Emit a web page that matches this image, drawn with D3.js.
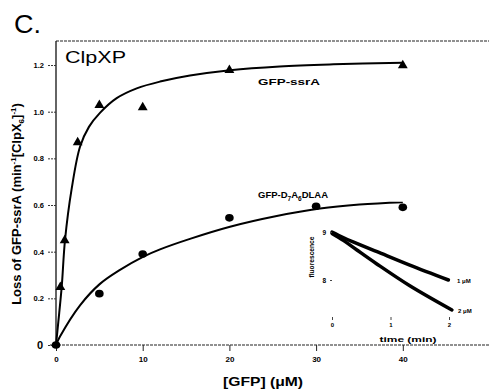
<!DOCTYPE html>
<html><head><meta charset="utf-8">
<script src="https://cdn.jsdelivr.net/npm/d3@7"></script>
<style>body{margin:0;background:#fff}svg{display:block}text{font-family:"Liberation Sans",Arial,sans-serif;fill:#000}</style>
</head><body><div id="c"></div>
<script>
// Main chart data
const ssrAConc = [0.5, 1, 2.5, 5, 10, 20, 40];
const ssrARate = [0.25, 0.45, 0.87, 1.03, 1.02, 1.18, 1.20];
const dlaaConc = [0, 5, 10, 20, 30, 40];
const dlaaRate = [0, 0.22, 0.39, 0.545, 0.595, 0.59];
// Fitted curves
const ssrAFitX = [0, 0.27, 0.66, 1.04, 1.81, 2.77, 3.8, 5.07, 7.0, 9.31, 12.0, 15.45, 20.07, 25.8, 32, 40];
const ssrAFitY = [0, 0.10, 0.25, 0.45, 0.67, 0.85, 0.935, 0.995, 1.058, 1.10, 1.129, 1.155, 1.178, 1.194, 1.203, 1.21];
const dlaaFitX = [0, 0.46, 2.77, 5.07, 7.38, 10.03, 12.0, 15.45, 20.07, 25.46, 30.45, 35, 40];
const dlaaFitY = [0, 0.036, 0.17, 0.262, 0.322, 0.378, 0.41, 0.455, 0.507, 0.553, 0.585, 0.602, 0.612];
const xTicks = [0, 10, 20, 30, 40];
const xTickLabels = ["0", "10", "20", "30", "40"];
const yTicks = [0, 0.2, 0.4, 0.6, 0.8, 1.0, 1.2];
const yTickLabels = ["0", "0.2", "0.4", "0.6", "0.8", "1.0", "1.2"];
// Inset data (time in min, fluorescence)
const insetTime1 = [0, 0.2, 0.37, 0.77, 1.33, 1.99];
const insetFluor1 = [9.0, 8.88, 8.79, 8.59, 8.31, 8.0];
const insetTime2 = [0, 0.2, 0.42, 0.76, 1.33, 2.05];
const insetFluor2 = [8.97, 8.82, 8.63, 8.34, 7.88, 7.375];
const insetXTicks = [0, 1, 2];
const insetYTicks = [8, 9];

const W = 489, H = 390;
const svg = d3.select("#c").append("svg").attr("width", W).attr("height", H);

const x = d3.scaleLinear().domain([0, 50]).range([56, 489.5]);
const y = d3.scaleLinear().domain([0, 1.3]).range([345, 41.7]);

// frame
svg.append("line").attr("x1", 56).attr("x2", W).attr("y1", 41).attr("y2", 41)
  .attr("stroke", "#222").attr("stroke-width", 1.2).attr("stroke-dasharray", "3,1");
svg.append("line").attr("x1", 56).attr("x2", 56).attr("y1", 41).attr("y2", 345)
  .attr("stroke", "#111").attr("stroke-width", 1.3);
svg.append("line").attr("x1", 50).attr("x2", W).attr("y1", 345).attr("y2", 345)
  .attr("stroke", "#222").attr("stroke-width", 1.2).attr("stroke-dasharray", "3,1");

// x axis ticks
const xa = svg.append("g").attr("transform", "translate(0,345)")
  .call(d3.axisBottom(x).tickValues(xTicks).tickSize(6).tickFormat((d, i) => xTickLabels[i]));
xa.select(".domain").remove();
xa.selectAll("line").attr("stroke", "#222").attr("stroke-width", 1);
xa.selectAll("text").attr("font-size", 8).attr("font-weight", "bold").attr("dy", 0).attr("y", 17);

// y axis ticks
const ya = svg.append("g").attr("transform", "translate(56,0)")
  .call(d3.axisLeft(y).tickValues(yTicks).tickSize(8).tickFormat((d, i) => yTickLabels[i]));
ya.select(".domain").remove();
ya.selectAll("line").attr("stroke", "#333").attr("stroke-width", 1).attr("stroke-dasharray", "2,1");
ya.selectAll("text").attr("font-size", 7.5).attr("font-weight", "bold").attr("x", -12);
ya.selectAll("text").filter(d => d === 0).attr("font-size", 11).attr("x", -13);

// curves
const line = d3.line().x(d => x(d[0])).y(d => y(d[1])).curve(d3.curveCatmullRom.alpha(0.5));
svg.append("path").datum(ssrAFitX.map((v, i) => [v, ssrAFitY[i]]))
  .attr("d", line).attr("fill", "none").attr("stroke", "#000").attr("stroke-width", 2);
svg.append("path").datum(dlaaFitX.map((v, i) => [v, dlaaFitY[i]]))
  .attr("d", line).attr("fill", "none").attr("stroke", "#000").attr("stroke-width", 2);

// markers
const tri = d3.symbol().type(d3.symbolTriangle).size(42);
svg.selectAll(".tri").data(ssrAConc.map((v, i) => [v, ssrARate[i]])).enter().append("path")
  .attr("d", tri).attr("transform", d => `translate(${x(d[0])},${y(d[1]) + 0.5})`).attr("fill", "#000");
svg.selectAll(".dot").data(dlaaConc.map((v, i) => [v, dlaaRate[i]])).enter().append("ellipse")
  .attr("cx", d => x(d[0])).attr("cy", d => y(d[1])).attr("rx", 4.3).attr("ry", 3.8).attr("fill", "#000");

// texts
svg.append("text").attr("x", 14).attr("y", 33).attr("font-size", 26)
  .attr("textLength", 27).attr("lengthAdjust", "spacingAndGlyphs").text("C.");
svg.append("text").attr("x", 65).attr("y", 63).attr("font-size", 16)
  .attr("textLength", 61).attr("lengthAdjust", "spacingAndGlyphs").text("ClpXP");
svg.append("text").attr("x", 258).attr("y", 85).attr("font-size", 9.5).attr("font-weight", "bold")
  .attr("textLength", 62).attr("lengthAdjust", "spacingAndGlyphs").text("GFP-ssrA");
const t2 = svg.append("text").attr("x", 258).attr("y", 198).attr("font-size", 9.5).attr("font-weight", "bold");
t2.append("tspan").text("GFP-D");
t2.append("tspan").attr("font-size", 6.5).attr("dy", 3).text("7");
t2.append("tspan").attr("dy", -3).text("A");
t2.append("tspan").attr("font-size", 6.5).attr("dy", 3).text("6");
t2.append("tspan").attr("dy", -3).text("DLAA");

svg.append("text").attr("x", 263).attr("y", 386).attr("text-anchor", "middle")
  .attr("font-size", 12).attr("font-weight", "bold")
  .attr("textLength", 80).attr("lengthAdjust", "spacingAndGlyphs").text("[GFP] (\u03bcM)");

const yt = svg.append("text").attr("transform", "translate(21,204) rotate(-90)")
  .attr("text-anchor", "middle").attr("font-size", 13).attr("font-weight", "bold");
yt.append("tspan").text("Loss of GFP-ssrA (min");
yt.append("tspan").attr("font-size", 8).attr("dy", -5).text("-1");
yt.append("tspan").attr("dy", 5).text("[ClpX");
yt.append("tspan").attr("font-size", 8).attr("dy", 3).text("6");
yt.append("tspan").attr("dy", -3).text("]");
yt.append("tspan").attr("font-size", 8).attr("dy", -5).text("-1");
yt.append("tspan").attr("dy", 5).text(")");

// inset
const ix = d3.scaleLinear().domain([0, 2]).range([332, 449]);
const iy = d3.scaleLinear().domain([8, 9]).range([280, 232]);
const il = d3.line().x(d => ix(d[0])).y(d => iy(d[1])).curve(d3.curveCatmullRom.alpha(0.5));
[[insetTime1, insetFluor1], [insetTime2, insetFluor2]].forEach(([t, f]) => {
  svg.append("path").datum(t.map((v, i) => [v, f[i]])).attr("d", il)
    .attr("fill", "none").attr("stroke", "#000").attr("stroke-width", 3.5).attr("stroke-linecap", "round");
});
const ixa = svg.append("g").attr("transform", "translate(0,320)")
  .call(d3.axisBottom(ix).tickValues(insetXTicks).tickSize(2).tickFormat(d3.format("d")));
ixa.select(".domain").remove();
ixa.selectAll("line").attr("stroke", "#444").attr("y1", -3).attr("y2", 0);
ixa.selectAll("text").attr("font-size", 6).attr("font-weight", "bold").attr("dy", 0).attr("y", 7);
const iya = svg.append("g").attr("transform", "translate(332,0)")
  .call(d3.axisLeft(iy).tickValues(insetYTicks).tickSize(2).tickFormat(d3.format("d")));
iya.select(".domain").remove();
iya.selectAll("line").attr("stroke", "#444");
iya.selectAll("text").attr("font-size", 6.5).attr("font-weight", "bold").attr("x", -6);
svg.append("text").attr("x", 457).attr("y", 283).attr("font-size", 6).attr("font-weight", "bold").text("1 \u03bcM");
svg.append("text").attr("x", 458).attr("y", 313).attr("font-size", 6).attr("font-weight", "bold").text("2 \u03bcM");
svg.append("text").attr("x", 408).attr("y", 342).attr("text-anchor", "middle").attr("font-size", 7).attr("font-weight", "bold")
  .attr("textLength", 57).attr("lengthAdjust", "spacingAndGlyphs").text("time (min)");
svg.append("text").attr("transform", "translate(314,257) rotate(-90)").attr("text-anchor", "middle")
  .attr("font-size", 6.5).attr("font-weight", "bold")
  .attr("textLength", 41).attr("lengthAdjust", "spacingAndGlyphs").text("fluorescence");
</script></body></html>
